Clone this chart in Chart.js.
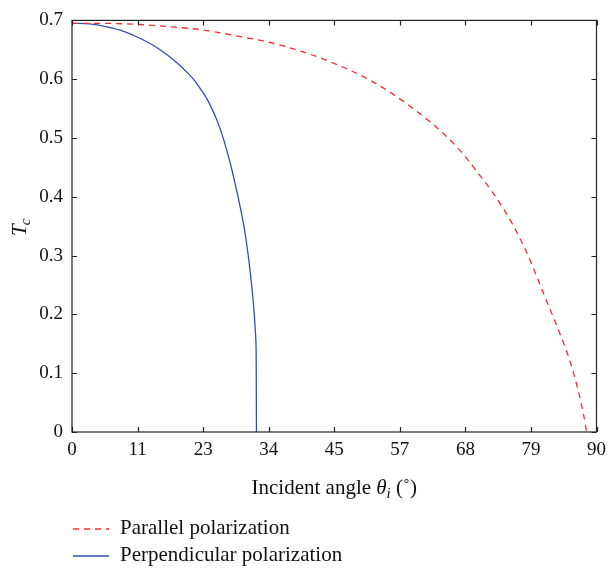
<!DOCTYPE html>
<html>
<head>
<meta charset="utf-8">
<script src="https://cdn.jsdelivr.net/npm/chart.js@4"></script>
<style>
  html, body { margin: 0; padding: 0; background: #fff; }
  canvas { display: block; }
</style>
</head>
<body>
<canvas id="chart" width="613" height="568"></canvas>
<script>
// data
const parAngle = [0, 5, 11.6, 17, 22.3, 28.6, 34.2, 41, 44.7, 47.3, 51.2, 55, 58, 60, 62, 64, 66, 68, 70, 72, 74, 75.5, 77.9, 79.6, 81.3, 82.8, 84.2, 85.4, 86.4, 87.3, 88.1, 88.3];
const parTc    = [0.695, 0.695, 0.693, 0.689, 0.684, 0.673, 0.662, 0.642, 0.628, 0.617, 0.598, 0.575, 0.554, 0.539, 0.523, 0.505, 0.485, 0.462, 0.436, 0.410, 0.380, 0.355, 0.308, 0.268, 0.226, 0.190, 0.155, 0.122, 0.088, 0.052, 0.012, 0];

const perpAngle = [0, 3, 6, 9, 12, 15, 18, 20, 21, 22, 23, 24, 25, 26, 27, 28, 29, 29.5, 30, 30.5, 31, 31.3, 31.5, 31.6, 31.65];
const perpTc    = [0.695, 0.694, 0.689, 0.681, 0.668, 0.651, 0.628, 0.609, 0.598, 0.584, 0.569, 0.550, 0.527, 0.498, 0.463, 0.422, 0.376, 0.350, 0.318, 0.279, 0.232, 0.197, 0.165, 0.132, 0];

const xTickValues = [0, 11.25, 22.5, 33.75, 45, 56.25, 67.5, 78.75, 90];
const xTickLabels = ['0', '11', '23', '34', '45', '57', '68', '79', '90'];
const yTickLabels = ['0', '0.1', '0.2', '0.3', '0.4', '0.5', '0.6', '0.7'];

const seriesNames = ['Parallel polarization', 'Perpendicular polarization'];
const RED = '#ff2a2a';
const BLUE = '#2f4fb0';
const FONT = "'Liberation Serif', 'Times New Roman', serif";

const toPts = (xs, ys) => xs.map((x, i) => ({ x: x, y: ys[i] }));

// ticks inside the box, box frame, titles and legend
const frame = {
  id: 'frame',
  afterDatasetsDraw(chart) {
    const { ctx, chartArea: a, scales: { x, y } } = chart;
    ctx.save();
    ctx.strokeStyle = '#222';
    ctx.lineWidth = 1.2;
    ctx.strokeRect(a.left, a.top, a.right - a.left, a.bottom - a.top);
    ctx.beginPath();
    xTickValues.forEach(v => {
      const px = Math.round(x.getPixelForValue(v)) + 0.5;
      ctx.moveTo(px, a.bottom); ctx.lineTo(px, a.bottom - 5);
      ctx.moveTo(px, a.top); ctx.lineTo(px, a.top + 5);
    });
    yTickLabels.forEach((t, i) => {
      const py = Math.round(y.getPixelForValue(i / 10)) + 0.5;
      ctx.moveTo(a.left, py); ctx.lineTo(a.left + 5, py);
      ctx.moveTo(a.right, py); ctx.lineTo(a.right - 5, py);
    });
    ctx.stroke();

    ctx.fillStyle = '#111';
    ctx.textBaseline = 'alphabetic';
    // x title: Incident angle θi (˚)
    let parts = [['Incident angle ', '21px ' + FONT, 0], ['θ', 'italic 21px ' + FONT, 0], ['i', 'italic 15px ' + FONT, 4], [' (˚)', '21px ' + FONT, 0]];
    let w = 0;
    parts.forEach(p => { ctx.font = p[1]; w += ctx.measureText(p[0]).width; });
    let cx = (a.left + a.right) / 2 - w / 2;
    parts.forEach(p => { ctx.font = p[1]; ctx.fillText(p[0], cx, 494 + p[2]); cx += ctx.measureText(p[0]).width; });

    // y title: Tc
    ctx.save();
    ctx.translate(26, 228);
    ctx.rotate(-Math.PI / 2);
    ctx.font = 'italic 21px ' + FONT;
    ctx.textAlign = 'left';
    ctx.fillText('T', -8, 0);
    const tw = ctx.measureText('T').width;
    ctx.font = 'italic 15px ' + FONT;
    ctx.fillText('c', -8 + tw - 1, 4);
    ctx.restore();

    // legend
    const rows = [[RED, [6, 5], 529], [BLUE, [], 556]];
    rows.forEach((r, i) => {
      ctx.strokeStyle = r[0];
      ctx.lineWidth = 1.3;
      ctx.setLineDash(r[1]);
      ctx.beginPath();
      ctx.moveTo(73, r[2]); ctx.lineTo(109, r[2]);
      ctx.stroke();
      ctx.setLineDash([]);
      ctx.font = '21px ' + FONT;
      ctx.fillStyle = '#111';
      ctx.textBaseline = 'middle';
      ctx.fillText(seriesNames[i], 120, r[2] - 1);
    });
    ctx.restore();
  }
};

new Chart(document.getElementById('chart'), {
  type: 'line',
  data: {
    datasets: [
      { label: seriesNames[0], data: toPts(parAngle, parTc), borderColor: RED, borderWidth: 1.3, borderDash: [6, 5], pointRadius: 0, cubicInterpolationMode: 'monotone', fill: false },
      { label: seriesNames[1], data: toPts(perpAngle, perpTc), borderColor: BLUE, borderWidth: 1.3, pointRadius: 0, cubicInterpolationMode: 'monotone', fill: false }
    ]
  },
  options: {
    responsive: false,
    animation: false,
    layout: { padding: { left: 0, top: 19, right: 12, bottom: 0 } },
    plugins: { legend: { display: false }, tooltip: { enabled: false } },
    scales: {
      x: {
        type: 'linear', min: 0, max: 90,
        afterBuildTicks: s => { s.ticks = xTickValues.map(v => ({ value: v })); },
        afterFit: s => { s.height = 136; },
        ticks: { color: '#111', font: { family: FONT, size: 19 }, padding: 7, maxRotation: 0, autoSkip: false,
                 callback: (v, i) => xTickLabels[i] },
        grid: { drawOnChartArea: false, drawTicks: false },
        border: { display: false }
      },
      y: {
        type: 'linear', min: 0, max: 0.7,
        afterBuildTicks: s => { s.ticks = yTickLabels.map((t, i) => ({ value: i / 10 })); },
        afterFit: s => { s.width = 72; },
        ticks: { color: '#111', font: { family: FONT, size: 19 }, padding: 9,
                 callback: (v, i) => yTickLabels[i] },
        grid: { drawOnChartArea: false, drawTicks: false },
        border: { display: false }
      }
    }
  },
  plugins: [frame]
});
</script>
</body>
</html>
